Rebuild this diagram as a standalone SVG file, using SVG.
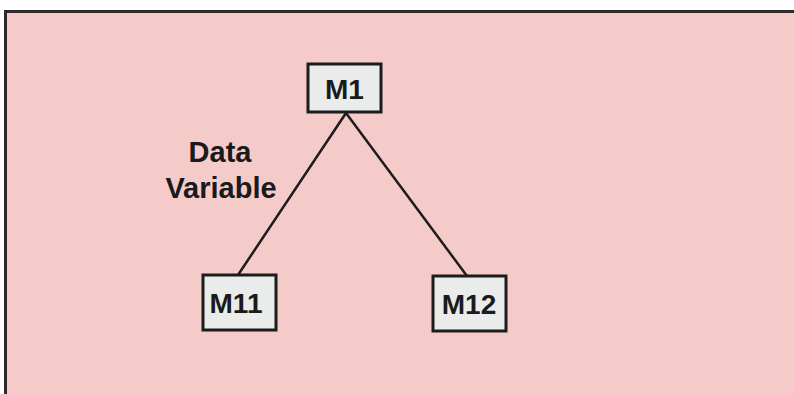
<svg xmlns="http://www.w3.org/2000/svg" width="794" height="394" viewBox="0 0 794 394">
  <style>
    .node rect { fill: #e9ecea; stroke: #1c1c1c; stroke-width: 3; }
    .node text, .label { font-family: "Liberation Sans", Arial, sans-serif; font-weight: bold; font-size: 28px; fill: #1a1a1a; text-anchor: middle; }
    .label { font-size: 29px; }
    .edge { stroke: #1c1c1c; stroke-width: 2.5; fill: none; }
  </style>
  <rect x="0" y="0" width="794" height="394" fill="#ffffff"/>
  <!-- frame panel -->
  <rect x="5.5" y="11.5" width="800" height="400" fill="#f5cbca" stroke="#2e2a2a" stroke-width="3"/>
  <g id="connectors">
    <line class="edge" x1="346" y1="113" x2="238" y2="275"/>
    <line class="edge" x1="346" y1="113" x2="467" y2="276"/>
  </g>
  <text class="label" x="220" y="162">Data</text>
  <text class="label" x="221" y="198">Variable</text>
  <g id="M1" class="node">
    <rect x="308" y="64" width="73" height="48"/>
    <text x="344.5" y="99">M1</text>
  </g>
  <g id="M11" class="node">
    <rect x="203" y="275" width="73" height="55"/>
    <text x="236" y="313">M11</text>
  </g>
  <g id="M12" class="node">
    <rect x="433" y="276" width="73" height="55"/>
    <text x="469" y="314">M12</text>
  </g>
</svg>
